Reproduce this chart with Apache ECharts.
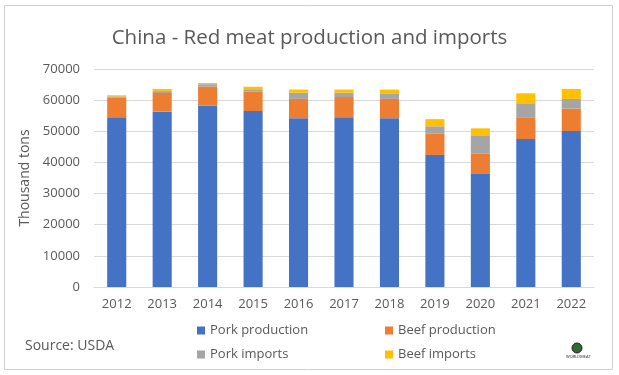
<!DOCTYPE html>
<html>
<head>
<meta charset="utf-8">
<script src="https://cdn.jsdelivr.net/npm/echarts@6/dist/echarts.min.js"></script>
<style>html,body{margin:0;padding:0;background:#fff;}#c{width:619px;height:375px;}</style>
</head>
<body>
<div id="c"></div>
<script>
var categories = ['2012','2013','2014','2015','2016','2017','2018','2019','2020','2021','2022'];
var porkProduction = [54500, 56300, 58300, 56500, 54200, 54500, 54200, 42400, 36300, 47500, 50100];
var beefProduction = [6400, 6000, 6000, 6300, 6200, 6500, 6200, 6800, 6600, 7000, 7200];
var porkImports = [300, 600, 800, 700, 2000, 1400, 1600, 2400, 5600, 4500, 3100];
var beefImports = [350, 700, 400, 800, 1000, 1000, 1400, 2300, 2450, 3200, 3200];

var FONT = 'Open Sans';
var TXT = '#595959';
var chart = echarts.init(document.getElementById('c'));
function ser(name, data, color) {
  return { name: name, type: 'bar', stack: 'a', data: data, barWidth: '42%',
    itemStyle: { color: color }, emphasis: { disabled: true } };
}
chart.setOption({
  animation: false,
  title: { text: 'China - Red meat production and imports', left: 'center', top: 23,
    textStyle: { fontFamily: FONT, fontSize: 20.5, fontWeight: 'normal', color: TXT } },
  grid: { left: 94, right: 25, top: 69, bottom: 88 },
  legend: [
    { data: ['Pork production', 'Pork imports'], orient: 'vertical', left: 192, top: 319,
      itemWidth: 8, itemHeight: 8, itemGap: 11, icon: 'rect',
      textStyle: { fontFamily: FONT, fontSize: 13, color: TXT } },
    { data: ['Beef production', 'Beef imports'], orient: 'vertical', left: 380, top: 319,
      itemWidth: 8, itemHeight: 8, itemGap: 11, icon: 'rect',
      textStyle: { fontFamily: FONT, fontSize: 13, color: TXT } }
  ],
  xAxis: { type: 'category', data: categories,
    axisLine: { lineStyle: { color: '#D9D9D9' } }, axisTick: { show: false },
    axisLabel: { fontFamily: FONT, fontSize: 13, color: TXT, margin: 11 } },
  yAxis: { type: 'value', min: 0, max: 70000, interval: 10000,
    name: 'Thousand tons', nameLocation: 'middle', nameGap: 57, nameRotate: 90,
    nameTextStyle: { fontFamily: FONT, fontSize: 14, color: TXT },
    axisLine: { show: false }, axisTick: { show: false },
    splitLine: { lineStyle: { color: '#D9D9D9' } },
    axisLabel: { fontFamily: FONT, fontSize: 13, color: TXT, margin: 14,
      formatter: function (v) { return String(v); } } },
  graphic: [
    { type: 'rect', shape: { x: 4.5, y: 5.5, width: 608, height: 364 },
      style: { fill: 'none', stroke: '#D0D0D0', lineWidth: 1 }, z: -1 },
    { type: 'text', left: 25, top: 339,
      style: { text: 'Source: USDA', fontFamily: FONT, fontSize: 14, fill: TXT } },
    { type: 'circle', shape: { cx: 577, cy: 348, r: 5 },
      style: { fill: '#2e6b2e', stroke: '#222', lineWidth: 1 } },
    { type: 'text', left: 566, top: 355,
      style: { text: 'WORLDMEAT', fontFamily: FONT, fontSize: 4, fill: '#222' } }
  ],
  series: [
    ser('Pork production', porkProduction, '#4472C4'),
    ser('Beef production', beefProduction, '#ED7D31'),
    ser('Pork imports', porkImports, '#A5A5A5'),
    ser('Beef imports', beefImports, '#FFC000')
  ]
});
</script>
</body>
</html>
